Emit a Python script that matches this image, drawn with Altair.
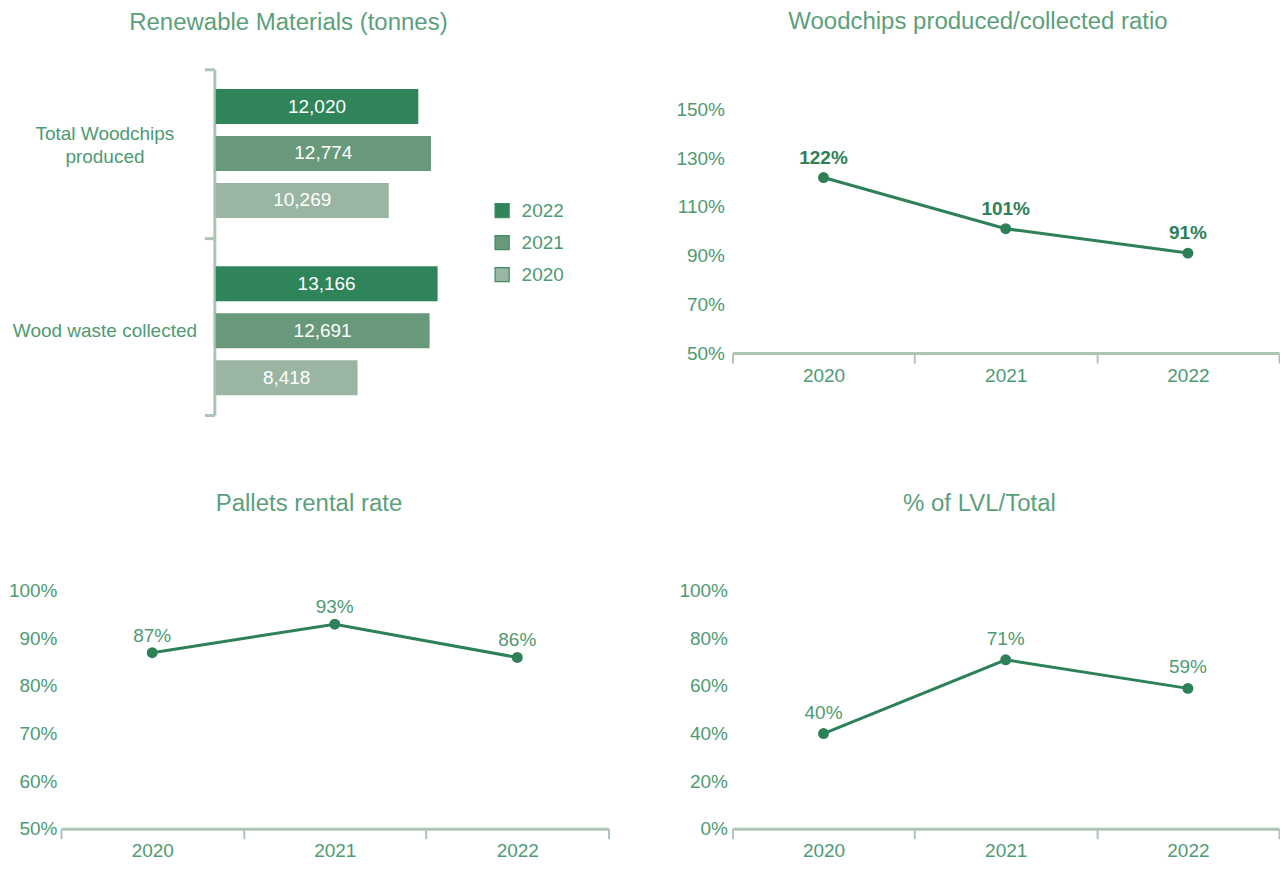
import altair as alt
import pandas as pd

# ---------------- data ----------------
bar_categories = ["Total Woodchips produced", "Wood waste collected"]
bar_years = ["2022", "2021", "2020"]
woodchips_produced = [12020, 12774, 10269]    # 2022, 2021, 2020
wood_waste_collected = [13166, 12691, 8418]   # 2022, 2021, 2020

line_years = ["2020", "2021", "2022"]
woodchips_ratio = [122, 101, 91]
pallets_rental = [87, 93, 86]
lvl_share = [40, 71, 59]

ratio_ticks = [50, 70, 90, 110, 130, 150]
pallets_ticks = [50, 60, 70, 80, 90, 100]
lvl_ticks = [0, 20, 40, 60, 80, 100]

# ---------------- style ----------------
FONT = "Liberation Sans"
TEXT_C = "#4e9a72"
TITLE_C = "#5c9f7b"
DARK = "#2e8058"
AXIS_C = "#aec4b4"
bar_colors = ["#2f845a", "#68997a", "#9ab6a3"]

# ---------------- top-left: bars ----------------
bar_df = pd.DataFrame({
    "category": [bar_categories[0]] * 3 + [bar_categories[1]] * 3,
    "year": bar_years + bar_years,
    "tonnes": woodchips_produced + wood_waste_collected,
})

y_enc = alt.Y(
    "category:N", sort=bar_categories, title=None,
    scale=alt.Scale(paddingInner=0.05, paddingOuter=0),
    axis=alt.Axis(
        offset=-153.5,
        tickBand="extent", domainColor=AXIS_C, domainWidth=3,
        tickColor=AXIS_C, tickWidth=3, tickSize=10,
        labelAlign="center", labelPadding=100, labelFontSize=19,
        labelColor=TEXT_C, labelFont=FONT, labelLineHeight=23, labelLimit=300,
        labelOffset={"condition": {"test": "datum.value === 'Total Woodchips produced'",
                                   "value": -20}, "value": 0},
        labelExpr="datum.label == 'Total Woodchips produced' ? ['Total Woodchips', 'produced'] : datum.label",
    ),
)
yoff_enc = alt.YOffset("year:N", sort=bar_years,
                       scale=alt.Scale(paddingInner=0.255, paddingOuter=0.42))
x_scale = alt.Scale(domain=[-9180, 14000], nice=False)

bars = alt.Chart(bar_df).mark_bar().encode(
    x=alt.X("tonnes:Q", axis=None, scale=x_scale),
    y=y_enc,
    yOffset=yoff_enc,
    color=alt.Color(
        "year:N",
        scale=alt.Scale(domain=bar_years, range=bar_colors),
        legend=alt.Legend(
            title=None, orient="none", legendX=432, legendY=132, padding=0,
            symbolType="square", symbolSize=200, symbolStrokeColor="#3d8a63",
            symbolStrokeWidth=1.2, symbolOpacity=1,
            labelFontSize=19, labelColor=TEXT_C, labelFont=FONT,
            labelOffset=10, rowPadding=12,
        ),
    ),
)
bar_text = alt.Chart(bar_df).transform_calculate(
    mid="datum.tonnes / 2"
).mark_text(color="white", fontSize=19, font=FONT).encode(
    x=alt.X("mid:Q", axis=None, scale=x_scale),
    y=y_enc,
    yOffset=yoff_enc,
    text=alt.Text("tonnes:Q", format=","),
)
tl = alt.layer(bars, bar_text).properties(
    width=391, height=346,
    title=alt.TitleParams("Renewable Materials (tonnes)", offset=25),
)


# ---------------- line panels ----------------
def line_panel(values, ticks, ymax, title, bold, dy, w, h, label_pad, title_offset):
    df = pd.DataFrame({"year": line_years, "value": values})
    base = alt.Chart(df).encode(
        x=alt.X(
            "year:N", sort=line_years, title=None,
            scale=alt.Scale(type="band", paddingInner=0, paddingOuter=0),
            axis=alt.Axis(
                labelAngle=0, tickBand="extent", domainColor=AXIS_C, domainWidth=3,
                tickColor=AXIS_C, tickWidth=2, tickSize=10, labelPadding=3,
                labelFontSize=19, labelColor=TEXT_C, labelFont=FONT, grid=False,
            ),
        ),
        y=alt.Y(
            "value:Q", title=None,
            scale=alt.Scale(domain=[ticks[0], ymax], nice=False, zero=False),
            axis=alt.Axis(
                values=ticks, labelExpr="datum.value + '%'", domain=False,
                ticks=False, grid=False, labelPadding=label_pad,
                labelFontSize=19, labelColor=TEXT_C, labelFont=FONT,
            ),
        ),
    )
    line = base.mark_line(color=DARK, strokeWidth=3)
    pts = base.mark_circle(color=DARK, size=120, opacity=1)
    txt = base.transform_calculate(lbl="datum.value + '%'").mark_text(
        dy=dy, fontSize=19, font=FONT,
        fontWeight="bold" if bold else "normal",
        color=DARK if bold else TEXT_C,
    ).encode(text="lbl:N")
    return alt.layer(line, pts, txt).properties(
        width=w, height=h, title=alt.TitleParams(title, offset=title_offset)
    )


tr = line_panel(woodchips_ratio, ratio_ticks, 166.4,
                "Woodchips produced/collected ratio", True, -20, 547, 284, 8, 35)
bl = line_panel(pallets_rental, pallets_ticks, 100,
                "Pallets rental rate", False, -17, 548, 238, 4, 66)
br = line_panel(lvl_share, lvl_ticks, 100,
                "% of LVL/Total", False, -21, 547, 238, 5, 66)

chart = alt.concat(
    tl, tr, bl, br, columns=2, spacing={"row": 75, "column": 66}
).resolve_scale(
    color="independent"
).properties(
    padding={"left": 0, "top": 2, "right": 0, "bottom": 0}
).configure_view(stroke=None).configure_title(
    font=FONT, fontSize=24, color=TITLE_C, fontWeight="normal",
    anchor="middle", frame="bounds",
)

chart.save("out.html", embed_options={"renderer": "svg", "actions": False})
